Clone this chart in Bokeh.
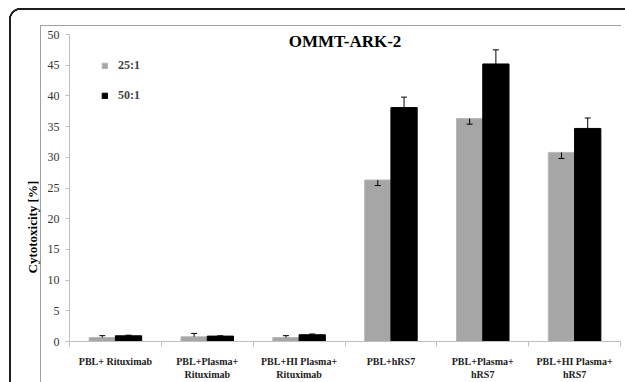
import numpy as np
from bokeh.plotting import figure
from bokeh.models import (ColumnDataSource, FixedTicker, Whisker, TeeHead, Legend,
                          LegendItem, Label, Title, Range1d)
from bokeh.embed import file_html
from bokeh.resources import INLINE

# ---- data ----
categories = ["PBL+ Rituximab", "PBL+Plasma+\nRituximab", "PBL+HI Plasma+\nRituximab",
              "PBL+hRS7", "PBL+Plasma+\nhRS7", "PBL+HI Plasma+\nhRS7"]
series = ["25:1", "50:1"]
vals_25 = [0.65, 0.77, 0.65, 26.3, 36.3, 30.8]
vals_50 = [0.93, 0.88, 1.10, 38.1, 45.2, 34.7]
err_up_25 = [0.3, 0.55, 0.3, 0.0, 0.0, 0.0]
err_dn_25 = [0.0, 0.0, 0.0, 0.9, 0.9, 1.0]
err_up_50 = [0.1, 0.05, 0.12, 1.7, 2.3, 1.7]
y_ticks = list(range(0, 51, 5))
title_text = "OMMT-ARK-2"
y_title = "Cytotoxicity [%]"

SERIF = "Liberation Serif"
GRAY = "#a6a6a6"
bar_w = 0.286
n = len(categories)
centers = np.arange(n) + 0.5

# decorative frame (outer dark rounded border + inner grey chart-area border) via CSS
DARK = "#1e1e1e"
LG = "#a0a0a0"
frame_styles = {
    "background-color": "white",
    "background-image": ", ".join([
        f"radial-gradient(circle at 12px 12px, transparent 10px, {DARK} 10.5px, {DARK} 12px, transparent 12.5px)",
        f"linear-gradient({DARK}, {DARK})",
        f"linear-gradient({DARK}, {DARK})",
        f"linear-gradient({LG}, {LG})",
        f"linear-gradient({LG}, {LG})",
    ]),
    "background-size": "12px 12px, 610px 2px, 2px 400px, 581px 1px, 1px 400px",
    "background-position": "9px 8px, 21px 8px, 9px 20px, 40px 25px, 40px 25px",
    "background-repeat": "no-repeat",
}

p = figure(width=625, height=382, x_range=Range1d(0, n), y_range=Range1d(0, 50),
           output_backend="svg", toolbar_location=None,
           min_border_left=69, min_border_right=5, min_border_top=34, min_border_bottom=41,
           styles=frame_styles)
p.outline_line_color = None
p.xgrid.visible = False
p.ygrid.visible = False
p.background_fill_alpha = 0
p.border_fill_alpha = 0

src25 = ColumnDataSource(dict(x=centers - bar_w / 2, top=vals_25))
src50 = ColumnDataSource(dict(x=centers + bar_w / 2, top=vals_50))
r25 = p.vbar(x="x", top="top", width=bar_w, source=src25, fill_color=GRAY, line_color="#b8b8b8")
r50 = p.vbar(x="x", top="top", width=bar_w, source=src50, fill_color="black", line_color="black")

# error bars
def add_whiskers(xs, vals, errs, up=True):
    keep = [i for i, e in enumerate(errs) if e > 0]
    xx = [xs[i] for i in keep]
    if up:
        lo = [vals[i] for i in keep]
        hi = [vals[i] + errs[i] for i in keep]
    else:
        lo = [vals[i] - errs[i] for i in keep]
        hi = [vals[i] for i in keep]
    s = ColumnDataSource(dict(x=xx, lower=lo, upper=hi))
    head = TeeHead(size=6, line_color="black", line_width=1)
    w = Whisker(source=s, base="x", lower="lower", upper="upper", line_color="black",
                line_width=1, level="annotation",
                upper_head=head if up else None, lower_head=None if up else head)
    p.add_layout(w)

add_whiskers(list(centers - bar_w / 2), vals_25, err_up_25, up=True)
add_whiskers(list(centers - bar_w / 2), vals_25, err_dn_25, up=False)
add_whiskers(list(centers + bar_w / 2), vals_50, err_up_50, up=True)

# axes
xa = p.xaxis[0]
xa.ticker = FixedTicker(ticks=list(centers), minor_ticks=list(range(0, n + 1)))
xa.major_label_overrides = {float(c): lab for c, lab in zip(centers, categories)}
xa.major_tick_out = 0
xa.major_tick_in = 0
xa.minor_tick_out = 5
xa.minor_tick_in = 0
xa.minor_tick_line_color = "#bfbfbf"
xa.axis_line_color = "#bfbfbf"
xa.major_label_text_font = SERIF
xa.major_label_text_font_style = "bold"
xa.major_label_text_font_size = "10px"
xa.major_label_text_color = "#222222"
xa.major_label_standoff = 9

ya = p.yaxis[0]
ya.ticker = FixedTicker(ticks=y_ticks)
ya.major_tick_out = 4
ya.major_tick_in = 0
ya.minor_tick_out = 0
ya.minor_tick_in = 0
ya.major_tick_line_color = "#bfbfbf"
ya.axis_line_color = "#bfbfbf"
ya.major_label_text_font = SERIF
ya.major_label_text_font_size = "12px"
ya.major_label_text_color = "#333333"
ya.major_label_standoff = 6

# legend
legend = Legend(items=[LegendItem(label=series[0], renderers=[r25]),
                       LegendItem(label=series[1], renderers=[r50])],
                location=(32, 238), orientation="vertical",
                glyph_width=7, glyph_height=7, label_height=14, spacing=15,
                padding=0, margin=0, border_line_color=None, background_fill_alpha=0,
                label_text_font=SERIF, label_text_font_style="bold",
                label_text_font_size="12px", label_standoff=10)
p.add_layout(legend)

# chart title inside the plot area
p.add_layout(Label(x=275.5, y=300, x_units="screen", y_units="screen", text=title_text,
                   text_font=SERIF, text_font_style="bold", text_font_size="17px",
                   text_align="center", text_baseline="middle", text_color="black"))
# y-axis title
p.add_layout(Title(text=y_title, align="left", offset=68, text_font=SERIF,
                   text_font_style="bold", text_font_size="13px", text_color="black",
                   standoff=10), "left")

open("out.html", "w").write(file_html(p, INLINE))
